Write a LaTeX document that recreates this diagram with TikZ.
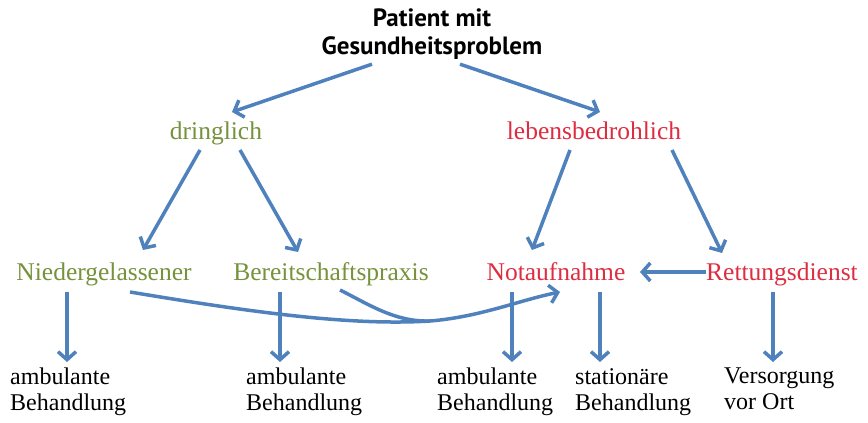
\documentclass[tikz,border=0pt]{standalone}
\usepackage{fontspec}
\setmainfont{Liberation Serif}
\newfontfamily\titlefont{PT Sans}
\usetikzlibrary{arrows.meta,calc}
\definecolor{arr}{RGB}{79,129,189}
\definecolor{grn}{RGB}{118,146,60}
\definecolor{rd}{RGB}{222,45,65}
\begin{document}
\begin{tikzpicture}[x=1pt,y=-1pt,
  lbl/.style={inner sep=0pt,anchor=base,font=\fontsize{25.5}{28}\selectfont},
  gl/.style={lbl,text=grn},
  rl/.style={lbl,text=rd},
  bl/.style={inner sep=0pt,font=\fontsize{24}{26}\selectfont,align=left,anchor=north west},
  con/.style={draw=arr,line width=3.5pt,-{Straight Barb[length=8pt,width=18pt,line width=3.5pt]}},
  conn/.style={draw=arr,line width=3.5pt}]
\useasboundingbox (0,0) rectangle (868,423);
\node[inner sep=0pt,align=center,anchor=north,font=\titlefont\bfseries\fontsize{25}{28}\selectfont] (t) at (432,9) {Patient mit\\Gesundheitsproblem};
\node[gl] (d) at (216,139) {dringlich};
\node[rl] (l) at (594,139) {lebensbedrohlich};
\node[gl] (n) at (104,280) {Niedergelassener};
\node[gl] (b) at (331,280) {Bereitschaftspraxis};
\node[rl] (na) at (556,280) {Notaufnahme};
\node[rl] (r) at (782,280) {Rettungsdienst};
\node[bl] (o1) at (10,368) {ambulante\\Behandlung};
\node[bl] (o2) at (246,368) {ambulante\\Behandlung};
\node[bl] (o3) at (437,368) {ambulante\\Behandlung};
\node[bl] (o4) at (575,368) {stationäre\\Behandlung};
\node[bl] (o5) at (724,368) {Versorgung\\vor Ort};
% top arrows
\draw[con] ($(t.south)+(-60,4)$) -- ($(d.base)+(16,-27)$);
\draw[con] ($(t.south)+(28,4)$) -- ($(l.base)+(6,-27)$);
% second level
\draw[con] ($(d.base)+(-16,11)$) -- ($(n.base)+(39,-30)$);
\draw[con] ($(d.base)+(24,11)$) -- ($(b.base)+(-33,-28)$);
\draw[con] ($(l.base)+(-24,11)$) -- ($(na.base)+(-24,-30)$);
\draw[con] ($(l.base)+(78,11)$) -- ($(r.base)+(-60,-27)$);
% Rettungsdienst -> Notaufnahme
\draw[con] ($(r.base)+(-76,-8)$) -- ($(na.base)+(84,-8)$);
% down arrows
\draw[con] ($(n.base)+(-37,12)$) -- ($(n.base)+(-37,82)$);
\draw[con] ($(b.base)+(-51,12)$) -- ($(b.base)+(-51,82)$);
\draw[con] ($(na.base)+(-44,12)$) -- ($(na.base)+(-44,82)$);
\draw[con] ($(na.base)+(44,12)$) -- ($(na.base)+(44,82)$);
\draw[con] ($(r.base)+(-9,12)$) -- ($(r.base)+(-9,82)$);
% curves
\coordinate (m) at (430,321);
\draw[conn] ($(n.base)+(26,12)$) .. controls (250,312) and (350,326) .. (m);
\draw[conn] ($(b.base)+(9,10)$) .. controls (370,305) and (395,322) .. (m);
\draw[con] (m) .. controls (480,317) and (520,300) .. ($(na.base)+(4,12)$);
\end{tikzpicture}
\end{document}
